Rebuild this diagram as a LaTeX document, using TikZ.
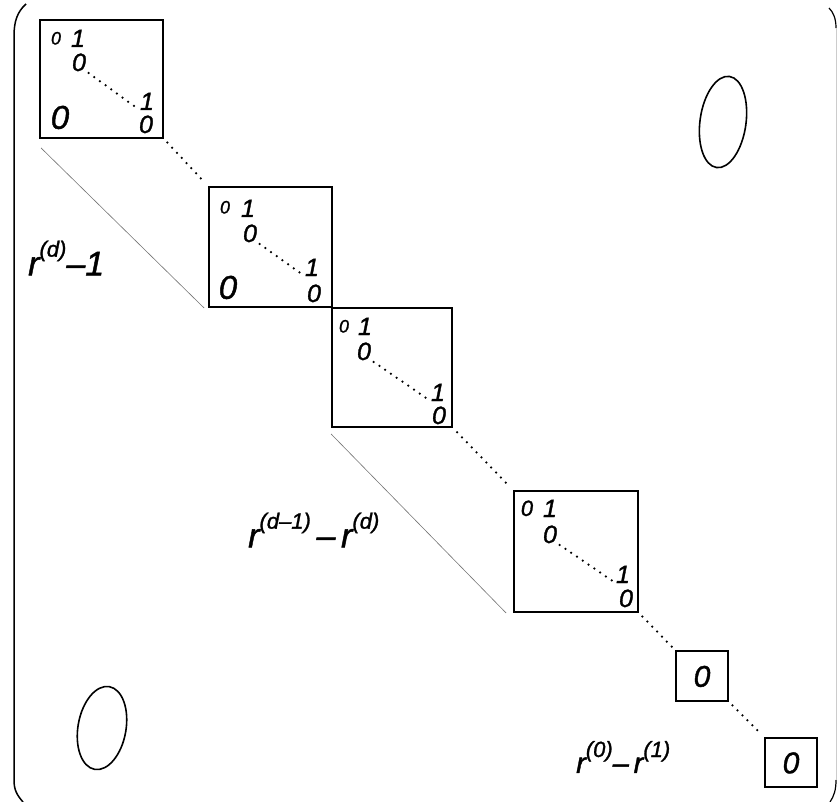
\documentclass[tikz,border=0pt]{standalone}
\usepackage{fontspec}
\setmainfont{Liberation Sans}
\newfontfamily\hand{Liberation Sans}[FakeBold=1.3]
\usetikzlibrary{shapes.geometric}
\newcommand\supr[1]{\raisebox{0.55em}{\fontsize{22}{22}\selectfont #1}}
\tikzset{
  blockbox/.style={draw, line width=1.9pt, inner sep=0pt},
  tight/.style={inner sep=0pt, text depth=0pt},
  smd/.style={tight, text height=12.9pt, font=\hand\fontsize{18}{18}\selectfont\itshape},
  mdd/.style={tight, text height=15.8pt, font=\hand\fontsize{22}{22}\selectfont\itshape},
  dg/.style={tight, text height=18pt, font=\hand\fontsize{25}{25}\selectfont\itshape},
  bigo/.style={tight, text height=23.6pt, font=\hand\fontsize{33}{33}\selectfont\itshape},
  smallo/.style={tight, text height=21.5pt, font=\hand\fontsize{30}{30}\selectfont\itshape},
  dotline/.style={line width=2.5pt, line cap=round, dash pattern=on 0pt off 7pt},
  faint/.style={line width=0.6pt, draw=black!55},
  lbl/.style={inner sep=0pt, anchor=west, font=\hand\fontsize{34}{34}\selectfont\itshape},
  zeroval/.style={draw, ellipse, line width=1.6pt, inner sep=0pt},
}
\begin{document}
\begin{tikzpicture}[x=1pt,y=-1pt]
\useasboundingbox (0,0) rectangle (837,802);
% brackets
\draw[line width=1.5pt] (26,4) .. controls (17,12) and (14,22) .. (14,36) -- (14,780) .. controls (14,790) and (17,795) .. (23,802);
\draw[line width=1.2pt] (829,8) .. controls (833,12) and (836,18) .. (836,28);
\draw[line width=0.5pt, draw=black!20] (836,28) -- (836,780);
\draw[line width=1.2pt] (836,780) .. controls (836,790) and (834,796) .. (830,802);
% boxes
\node[blockbox, minimum width=123pt, minimum height=118pt] (b1) at (101.5,79) {};
\node[blockbox, minimum width=123pt, minimum height=120pt] (b2) at (270.5,247) {};
\node[blockbox, minimum width=120pt, minimum height=119pt] (b3) at (392,367.5) {};
\node[blockbox, minimum width=124pt, minimum height=121pt] (b4) at (576,551.5) {};
\node[blockbox, minimum width=52pt, minimum height=50pt] (b5) at (702,676) {};
\node[blockbox, minimum width=52pt, minimum height=49pt] (b6) at (791,762.5) {};
% box 1 contents
\node[smd] (b1a) at (56,38) {0};
\node[dg] (b1b) at (78,38) {1};
\node[dg] (b1c) at (79,62) {0};
\node[dg] (b1d) at (147,101) {1};
\node[dg] (b1e) at (146,124) {0};
\node[bigo] (b1f) at (60,117) {0};
\draw[dotline, shorten <=3pt, shorten >=2pt] (b1c.south east) -- (b1d.south west);
% box 2 contents
\node[smd] (b2a) at (225,207) {0};
\node[dg] (b2b) at (248,208) {1};
\node[dg] (b2c) at (250,233) {0};
\node[dg] (b2d) at (312,267) {1};
\node[dg] (b2e) at (314,293) {0};
\node[bigo] (b2f) at (228,287) {0};
\draw[dotline, shorten <=3pt, shorten >=2pt] (b2c.south east) -- (b2d.south west);
% box 3 contents
\node[smd] (b3a) at (344,326) {0};
\node[dg] (b3b) at (365,326) {1};
\node[dg] (b3c) at (364,351) {0};
\node[dg] (b3d) at (438,392) {1};
\node[dg] (b3e) at (439,415) {0};
\draw[dotline, shorten <=3pt, shorten >=2pt] (b3c.south east) -- (b3d.south west);
% box 4 contents
\node[mdd] (b4a) at (527,508) {0};
\node[dg] (b4b) at (550,508) {1};
\node[dg] (b4c) at (550,534) {0};
\node[dg] (b4d) at (623,574) {1};
\node[dg] (b4e) at (626,598) {0};
\draw[dotline, shorten <=3pt, shorten >=2pt] (b4c.south east) -- (b4d.south west);
% small boxes
\node[smallo] (b5o) at (b5) {0};
\node[smallo] (b6o) at (b6) {0};
% dotted connectors between blocks
\draw[dotline, shorten <=5pt, shorten >=5pt] (b1.south east) -- (b2.north west);
\draw[dotline, shorten <=6pt, shorten >=6pt] (b3.south east) -- (b4.north west);
\draw[dotline, shorten <=5pt, shorten >=4pt] (b4.south east) -- (b5.north west);
\draw[dotline, shorten <=5pt, shorten >=5pt] (b5.south east) -- (b6.north west);
% faint lower edges
\draw[faint] ([shift={(2pt,-9pt)}]b1.south west) -- ([xshift=-4pt]b2.south west);
\draw[faint] ([yshift=-6pt]b3.south west) -- ([xshift=-7pt]b4.south west);
% labels
\node[lbl] (l1) at (28,258) {r\supr{(d)}–1};
\node[lbl] (l2) at (248,530) {r\supr{(d–1)}\,–\,r\supr{(d)}};
\node[lbl, font=\hand\fontsize{29}{29}\selectfont\itshape] (l3) at (576,757) {r\supr{(0)}–\,r\supr{(1)}};
% big zero blocks
\node[zeroval, minimum width=46pt, minimum height=92pt, rotate=-8] (zt) at (723,122) {};
\node[zeroval, minimum width=48pt, minimum height=84pt, rotate=-10] (zb) at (102,728) {};
\end{tikzpicture}
\end{document}
